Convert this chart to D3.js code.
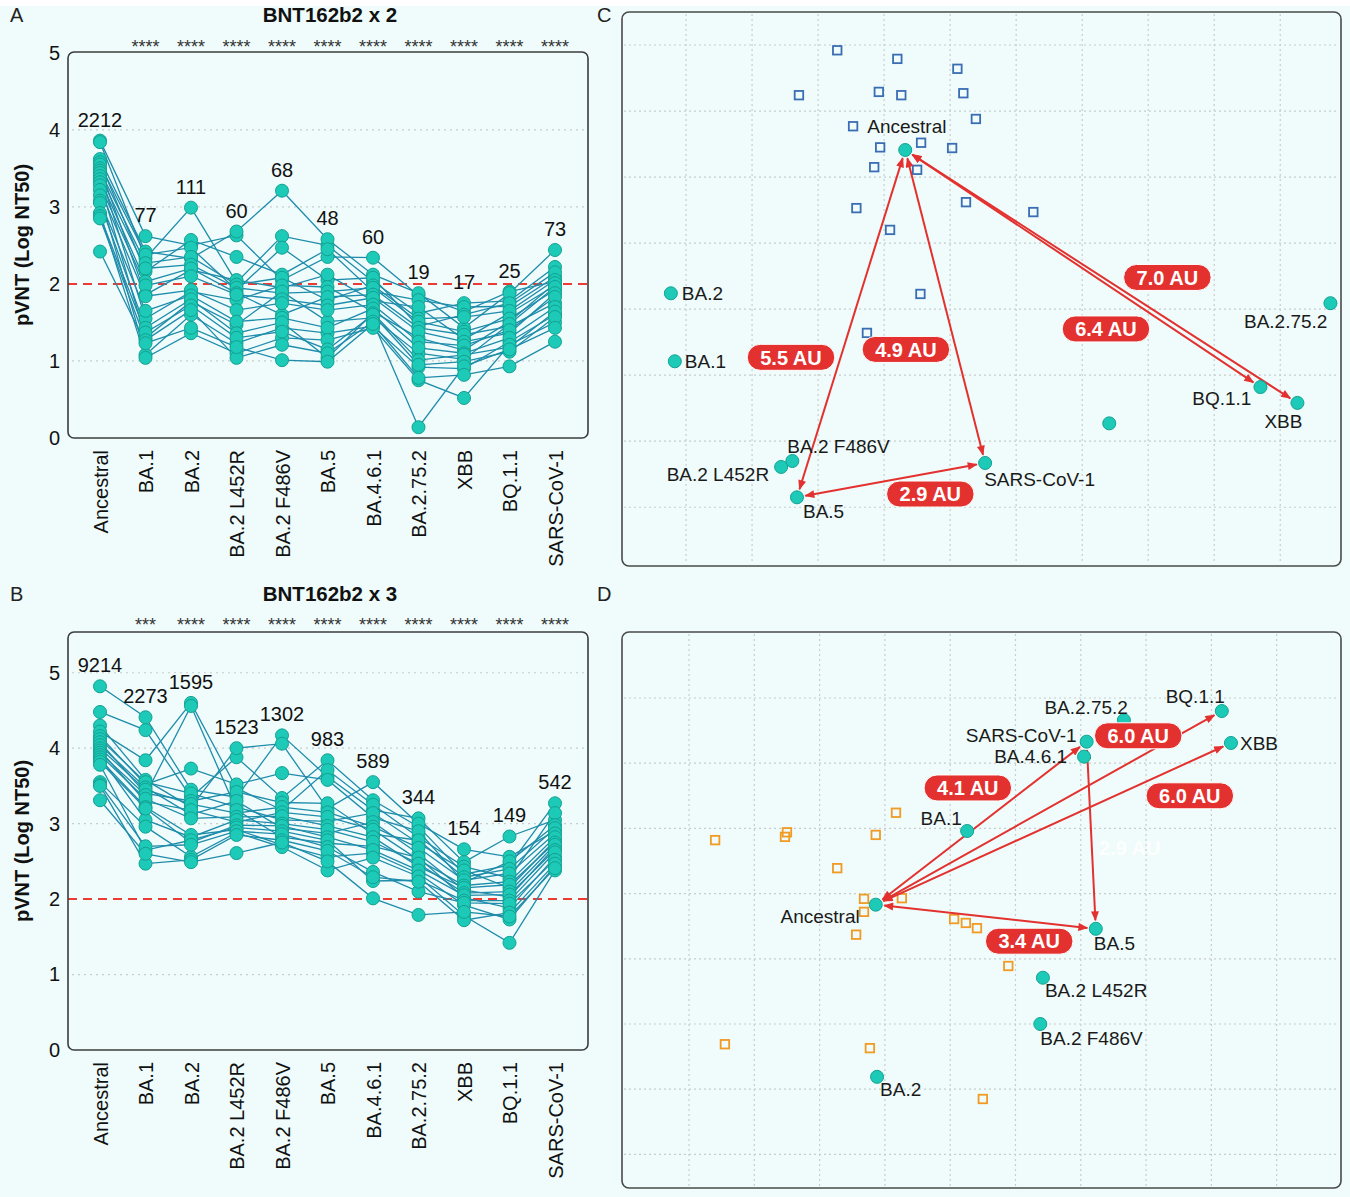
<!DOCTYPE html>
<html>
<head>
<meta charset="utf-8">
<script src="https://cdn.jsdelivr.net/npm/d3@7"></script>
<style>
  body { margin: 0; background: #ffffff; }
  svg { display: block; font-family: "Liberation Sans", Arial, Helvetica, sans-serif; }
</style>
</head>
<body>
<div id="chart"></div>
<script>
// ---------- data: neutralisation panels (A, B) ----------
const variants = ["Ancestral", "BA.1", "BA.2", "BA.2 L452R", "BA.2 F486V", "BA.5",
                  "BA.4.6.1", "BA.2.75.2", "XBB", "BQ.1.1", "SARS-CoV-1"];
const yTicks = [0, 1, 2, 3, 4, 5];
const cutoff = 2;

const gmtDose2 = [2212, 77, 111, 60, 68, 48, 60, 19, 17, 25, 73];
const starsDose2 = ["", "****", "****", "****", "****", "****", "****", "****", "****", "****", "****"];
// one list per variant, same subject order in every list (log10 NT50)
const titersDose2 = [
  [3.86,3.84,3.62,3.58,3.55,3.50,3.47,3.44,3.40,3.36,3.32,3.28,3.22,3.15,3.08,3.05,2.92,2.88,2.85,2.42],
  [2.62,2.33,2.42,2.16,2.38,1.86,2.27,1.55,2.20,2.03,1.30,1.98,1.84,1.08,1.65,1.43,1.04,1.37,1.27,1.23],
  [2.50,2.99,2.33,2.57,2.47,2.18,2.35,1.90,2.25,2.20,1.77,2.10,1.92,1.60,1.85,1.80,1.36,1.72,1.66,1.43],
  [2.63,2.02,2.68,2.35,1.92,2.05,1.99,1.79,1.95,1.88,1.47,1.86,1.66,1.23,1.51,1.36,1.10,1.30,1.04,1.18],
  [2.05,2.62,3.21,2.12,2.47,1.95,2.08,1.98,1.88,1.60,1.90,1.80,1.75,1.43,1.56,1.50,1.30,1.38,1.21,1.01],
  [2.35,2.50,2.58,2.45,2.05,2.12,1.79,1.96,1.90,1.83,1.51,1.72,1.66,1.36,1.43,1.04,1.27,1.15,1.10,0.99],
  [2.34,2.03,2.12,1.90,2.08,1.78,1.98,1.64,1.95,1.86,1.56,1.82,1.73,1.45,1.68,1.62,1.43,1.60,1.51,1.48],
  [1.85,1.62,1.88,1.79,1.45,1.70,1.55,1.30,1.51,1.43,1.10,1.38,1.25,0.92,1.17,1.01,0.75,0.95,0.14,0.78],
  [1.64,1.75,1.43,1.70,1.60,1.28,1.57,1.14,1.38,1.34,1.02,1.25,1.20,0.90,1.10,1.08,0.52,0.99,0.93,0.82],
  [1.90,1.78,1.88,1.71,1.75,1.62,1.65,1.51,1.55,1.45,1.48,1.36,1.40,1.25,1.30,1.18,1.21,1.12,1.15,0.93],
  [2.03,2.22,2.44,2.09,2.15,1.98,2.05,2.01,1.92,1.75,1.96,1.88,1.83,1.60,1.70,1.64,1.50,1.57,1.43,1.25]
];

const gmtDose3 = [9214, 2273, 1595, 1523, 1302, 983, 589, 344, 154, 149, 542];
const starsDose3 = ["", "***", "****", "****", "****", "****", "****", "****", "****", "****", "****"];
const titersDose3 = [
  [4.82,4.48,4.30,4.22,4.16,4.12,4.08,4.04,4.00,3.97,3.94,3.91,3.88,3.85,3.82,3.78,3.55,3.52,3.50,3.31],
  [4.41,4.24,3.58,3.84,3.52,3.55,3.40,3.48,3.45,3.29,3.38,3.33,3.05,3.22,3.20,2.65,2.96,2.70,2.47,2.60],
  [3.45,3.35,3.22,4.60,3.73,3.40,3.30,3.12,3.26,3.18,4.56,3.07,2.82,2.85,2.75,2.78,2.56,2.72,2.52,2.49],
  [3.35,3.88,4.00,3.47,3.52,3.22,3.42,3.30,3.14,3.02,3.18,3.09,3.05,2.92,2.98,2.95,2.88,2.90,2.85,2.61],
  [4.17,3.34,4.06,3.18,3.67,3.05,3.28,2.94,3.22,3.15,2.82,3.10,3.00,2.72,2.97,2.90,2.69,2.86,2.78,2.75],
  [3.62,3.84,3.20,3.71,3.58,3.03,3.27,2.87,3.15,3.09,2.74,2.97,2.92,2.56,2.82,2.78,2.38,2.69,2.64,2.50],
  [3.18,3.31,3.55,3.25,3.08,3.14,2.86,3.02,2.96,2.92,2.70,2.82,2.76,2.61,2.65,2.24,2.55,2.36,2.29,2.01],
  [3.07,2.96,3.00,2.82,2.90,2.74,2.78,2.60,2.68,2.52,2.55,2.43,2.47,2.34,2.38,2.25,2.30,2.10,2.23,1.79],
  [2.49,2.33,2.66,2.43,2.22,2.38,2.29,2.12,2.25,2.18,2.02,2.15,2.08,1.92,2.05,1.98,1.78,1.95,1.72,1.83],
  [2.83,2.45,2.56,2.28,2.50,2.15,2.40,2.03,2.34,2.23,1.88,2.19,2.10,1.73,2.06,1.98,1.42,1.94,1.82,1.77],
  [3.05,3.27,2.90,3.14,2.98,2.78,2.94,2.69,2.87,2.82,2.56,2.75,2.72,2.44,2.65,2.62,2.38,2.52,2.47,2.41]
];

// ---------- data: antigenic maps (C, D), coordinates in antigenic units ----------
const mapCVariants = ["Ancestral", "BA.2", "BA.1", "BA.2 F486V", "BA.2 L452R", "BA.5",
                      "SARS-CoV-1", "BA.2.75.2", "BQ.1.1", "XBB", "BA.4.6.1"];
const mapCX = [3.32, -0.23, -0.17, 1.61, 1.44, 1.68, 4.53, 9.76, 8.70, 9.26, 6.41];
const mapCY = [1.59, 3.76, 4.79, 6.30, 6.39, 6.85, 6.33, 3.91, 5.18, 5.42, 5.73];
const mapCShowLabel = [true, true, true, true, true, true, true, true, true, true, false];
const mapCSeraX = [2.29,3.20,4.11,1.71,2.92,3.26,4.20,4.39,2.53,2.94,3.56,4.03,2.85,3.50,2.58,4.24,3.09,5.26,3.55,2.74];
const mapCSeraY = [0.08,0.21,0.36,0.76,0.71,0.76,0.73,1.12,1.23,1.55,1.48,1.56,1.85,1.89,2.47,2.38,2.80,2.53,3.77,4.36];
const mapCArrows = [["Ancestral","XBB"], ["Ancestral","BQ.1.1"], ["Ancestral","BA.5"],
                    ["Ancestral","SARS-CoV-1"], ["BA.5","SARS-CoV-1"]];
const mapCDistances = ["7.0 AU", "6.4 AU", "5.5 AU", "4.9 AU", "2.9 AU"];
const mapCDistX = [7.29, 6.36, 1.59, 3.33, 3.70];
const mapCDistY = [3.52, 4.30, 4.73, 4.61, 6.80];

const mapDVariants = ["Ancestral", "BA.5", "BA.2 L452R", "BA.2 F486V", "BA.2", "BA.1",
                      "BA.4.6.1", "SARS-CoV-1", "BA.2.75.2", "BQ.1.1", "XBB"];
const mapDX = [2.86, 6.23, 5.42, 5.38, 2.88, 4.26, 6.05, 6.09, 6.66, 8.16, 8.30];
const mapDY = [3.17, 3.54, 4.29, 5.00, 5.81, 2.04, 0.90, 0.67, 0.34, 0.20, 0.69];
const mapDShowLabel = [true, true, true, true, true, true, true, true, true, true, true];
const mapDSeraX = [0.40,1.50,1.47,2.86,3.17,2.27,2.68,2.68,3.26,2.56,4.06,4.24,4.41,4.89,0.55,2.77,4.50];
const mapDSeraY = [2.18,2.06,2.13,2.10,1.76,2.61,3.08,3.28,3.07,3.63,3.39,3.45,3.53,4.11,5.31,5.37,6.15];
const mapDArrows = [["Ancestral","SARS-CoV-1"], ["Ancestral","BQ.1.1"], ["Ancestral","XBB"],
                    ["Ancestral","BA.5"], ["SARS-CoV-1","BA.5"]];
const mapDDistances = ["4.1 AU", "6.0 AU", "6.0 AU", "3.4 AU"];
const mapDDistX = [4.27, 6.88, 7.67, 5.21];
const mapDDistY = [1.38, 0.58, 1.50, 3.73];
const mapDFaintText = "2.9 AU";
const mapDFaintX = 6.75, mapDFaintY = 2.30;

// label placement for the maps: [anchor, dx, dy] in pixels
const labelPlaceC = {
  "Ancestral": ["start", -38, -24], "BA.2": ["start", 11, 0], "BA.1": ["start", 10, 0],
  "BA.2 F486V": ["start", -5, -15], "BA.2 L452R": ["end", -12, 7], "BA.5": ["start", 6, 14],
  "SARS-CoV-1": ["start", -1, 16], "BA.2.75.2": ["end", -3, 18], "BQ.1.1": ["end", -9, 11],
  "XBB": ["end", 5, 18], "BA.4.6.1": ["start", 10, 0]
};
const labelPlaceD = {
  "Ancestral": ["end", -16, 12], "BA.5": ["start", -2, 15], "BA.2 L452R": ["start", 2, 13],
  "BA.2 F486V": ["start", 0, 14], "BA.2": ["start", 3, 13], "BA.1": ["middle", -26, -13],
  "BA.4.6.1": ["end", -17, 0], "SARS-CoV-1": ["end", -10, -6], "BA.2.75.2": ["end", 4, -13],
  "BQ.1.1": ["end", 3, -15], "XBB": ["start", 9, 0]
};

// ---------- colours ----------
const TEAL = "#1dc9b7";
const TEAL_EDGE = "#12a293";
const LINE = "#1f8cab";
const RED = "#e3312f";
const GRID = "#c9cccc";
const BG = "#effcfb";

const W = 1350, H = 1197;
const svg = d3.select("#chart").append("svg").attr("width", W).attr("height", H);
svg.append("rect").attr("x", 0).attr("y", 6).attr("width", W).attr("height", H - 6).attr("fill", BG);

const defs = svg.append("defs");
defs.append("marker")
    .attr("id", "arrowhead")
    .attr("viewBox", "0 0 10 8")
    .attr("refX", 9).attr("refY", 4)
    .attr("markerWidth", 11).attr("markerHeight", 8)
    .attr("markerUnits", "userSpaceOnUse")
    .attr("orient", "auto-start-reverse")
  .append("path")
    .attr("d", "M0,0L10,4L0,8z")
    .attr("fill", RED);

// ---------- panels A and B ----------
function drawTiterPanel(cfg) {
    const g = svg.append("g");
    const left = 68, right = 588;

    const x = d3.scalePoint().domain(variants).range([left + 32, right - 33]);
    const y = d3.scaleLinear().domain([0, cfg.yMax]).range([cfg.bottom, cfg.top]);

    // panel letter and title
    g.append("text").attr("x", 10).attr("y", cfg.titleY)
        .style("font-size", "20px").attr("fill", "#222").text(cfg.letter);
    g.append("text").attr("x", 330).attr("y", cfg.titleY).attr("text-anchor", "middle")
        .style("font-size", "20.5px").style("font-weight", "bold").attr("fill", "#111")
        .text(cfg.title);

    // dotted gridlines
    g.selectAll(".grid")
        .data(yTicks.filter(t => t > 0 && t !== cutoff && t < cfg.yMax - 0.1))
        .enter().append("line")
        .attr("x1", left + 4).attr("x2", right - 2)
        .attr("y1", d => y(d)).attr("y2", d => y(d))
        .attr("stroke", GRID).attr("stroke-width", 1.2).attr("stroke-dasharray", "2,4");

    // y axis
    const yAxis = g.append("g")
        .attr("transform", `translate(${left},0)`)
        .call(d3.axisLeft(y).tickValues(yTicks).tickSize(0).tickPadding(8).tickFormat(d3.format("d")));
    yAxis.select(".domain").remove();
    yAxis.selectAll("text").style("font-size", "20px").attr("fill", "#111")
        .style("font-family", "'Liberation Sans', Arial, sans-serif");

    // x axis, rotated labels
    const xAxis = g.append("g")
        .attr("transform", `translate(0,${cfg.bottom})`)
        .call(d3.axisBottom(x).tickSize(0));
    xAxis.select(".domain").remove();
    xAxis.selectAll("text")
        .attr("transform", "rotate(-90)")
        .attr("text-anchor", "end")
        .attr("x", -12).attr("y", 0).attr("dy", "0.36em")
        .style("font-size", "20px").attr("fill", "#111")
        .style("font-family", "'Liberation Sans', Arial, sans-serif");

    // y axis title
    g.append("text")
        .attr("transform", `translate(29,${(cfg.top + cfg.bottom) / 2}) rotate(-90)`)
        .attr("text-anchor", "middle")
        .style("font-size", "20px").style("font-weight", "bold").attr("fill", "#111")
        .text("pVNT (Log NT50)");

    // significance stars
    g.selectAll(".star")
        .data(cfg.stars)
        .enter().append("text")
        .attr("x", (d, i) => x(variants[i]))
        .attr("y", cfg.starY)
        .attr("text-anchor", "middle")
        .style("font-size", "18px").attr("fill", "#333")
        .text(d => d);

    // threshold line
    g.append("line")
        .attr("x1", left).attr("x2", right)
        .attr("y1", y(cutoff)).attr("y2", y(cutoff))
        .attr("stroke", "#ec3b34").attr("stroke-width", 2).attr("stroke-dasharray", "9,6");

    // subject lines
    const nSubjects = cfg.titers[0].length;
    const subjects = d3.range(nSubjects).map(i => cfg.titers.map(col => col[i]));
    const line = d3.line().x((d, j) => x(variants[j])).y(d => y(d));
    g.selectAll(".subject")
        .data(subjects)
        .enter().append("path")
        .attr("d", line)
        .attr("fill", "none").attr("stroke", LINE).attr("stroke-width", 1.3);

    // points
    cfg.titers.forEach((col, j) => {
        g.selectAll(null)
            .data(col)
            .enter().append("circle")
            .attr("cx", x(variants[j]))
            .attr("cy", d => y(d))
            .attr("r", 6.5)
            .attr("fill", TEAL).attr("stroke", TEAL_EDGE).attr("stroke-width", 1);
    });

    // geometric mean titres above each column
    g.selectAll(".gmt")
        .data(cfg.gmt)
        .enter().append("text")
        .attr("x", (d, i) => x(variants[i]))
        .attr("y", (d, i) => y(d3.max(cfg.titers[i])) - 14)
        .attr("text-anchor", "middle")
        .style("font-size", "20px").attr("fill", "#111")
        .text(d => d);

    // frame
    g.append("rect")
        .attr("x", left).attr("y", cfg.top)
        .attr("width", right - left).attr("height", cfg.bottom - cfg.top)
        .attr("rx", 6).attr("fill", "none").attr("stroke", "#3c3c3c").attr("stroke-width", 1.6);
}

drawTiterPanel({ letter: "A", title: "BNT162b2 x 2", titleY: 22, starY: 53,
                 top: 52, bottom: 438, yMax: 5.01,
                 titers: titersDose2, gmt: gmtDose2, stars: starsDose2 });
drawTiterPanel({ letter: "B", title: "BNT162b2 x 3", titleY: 601, starY: 631,
                 top: 632, bottom: 1050, yMax: 5.54,
                 titers: titersDose3, gmt: gmtDose3, stars: starsDose3 });

// ---------- panels C and D ----------
function drawMap(cfg) {
    const g = svg.append("g");
    const left = 622, right = 1341;
    const x = d3.scaleLinear().domain(cfg.xDomain).range([left, right]);
    const y = d3.scaleLinear().domain(cfg.yDomain).range([cfg.top, cfg.bottom]);

    g.append("text").attr("x", 597).attr("y", cfg.letterY)
        .style("font-size", "20px").attr("fill", "#222").text(cfg.letter);

    // grid
    g.selectAll(".gx")
        .data(x.ticks(10).filter(t => x(t) > left + 5 && x(t) < right - 5))
        .enter().append("line")
        .attr("x1", d => x(d)).attr("x2", d => x(d))
        .attr("y1", cfg.top + 2).attr("y2", cfg.bottom - 2)
        .attr("stroke", GRID).attr("stroke-width", 1.2).attr("stroke-dasharray", "2,3");
    g.selectAll(".gy")
        .data(y.ticks(8).filter(t => y(t) > cfg.top + 5 && y(t) < cfg.bottom - 5))
        .enter().append("line")
        .attr("x1", left + 2).attr("x2", right - 2)
        .attr("y1", d => y(d)).attr("y2", d => y(d))
        .attr("stroke", GRID).attr("stroke-width", 1.2).attr("stroke-dasharray", "2,3");

    // sera
    const s = 8.5;
    g.selectAll(".serum")
        .data(cfg.seraX)
        .enter().append("rect")
        .attr("x", d => x(d) - s / 2)
        .attr("y", (d, i) => y(cfg.seraY[i]) - s / 2)
        .attr("width", s).attr("height", s)
        .attr("fill", "none").attr("stroke", cfg.seraColor).attr("stroke-width", 1.8);

    const pos = {};
    cfg.names.forEach((n, i) => { pos[n] = [x(cfg.px[i]), y(cfg.py[i])]; });

    // arrows
    const gap = 8.5;
    g.selectAll(".arrow")
        .data(cfg.arrows)
        .enter().append("line")
        .each(function (d) {
            const [x1, y1] = pos[d[0]], [x2, y2] = pos[d[1]];
            const len = Math.hypot(x2 - x1, y2 - y1);
            const ux = (x2 - x1) / len, uy = (y2 - y1) / len;
            d3.select(this)
                .attr("x1", x1 + ux * gap).attr("y1", y1 + uy * gap)
                .attr("x2", x2 - ux * gap).attr("y2", y2 - uy * gap);
        })
        .attr("stroke", RED).attr("stroke-width", 2)
        .attr("marker-start", "url(#arrowhead)").attr("marker-end", "url(#arrowhead)");

    // antigens
    g.selectAll(".antigen")
        .data(cfg.names)
        .enter().append("circle")
        .attr("cx", d => pos[d][0]).attr("cy", d => pos[d][1])
        .attr("r", 6.5)
        .attr("fill", TEAL).attr("stroke", TEAL_EDGE).attr("stroke-width", 1);

    // antigen labels
    g.selectAll(".alabel")
        .data(cfg.names.filter((n, i) => cfg.show[i]))
        .enter().append("text")
        .attr("x", d => pos[d][0] + cfg.place[d][1])
        .attr("y", d => pos[d][1] + cfg.place[d][2])
        .attr("dy", "0.35em")
        .attr("text-anchor", d => cfg.place[d][0])
        .style("font-size", "19px").attr("fill", "#1a1a1a")
        .text(d => d);

    // distance pills
    cfg.dist.forEach((t, i) => {
        const cx = x(cfg.distX[i]), cy = y(cfg.distY[i]);
        const pg = g.append("g");
        const txt = pg.append("text")
            .attr("x", cx).attr("y", cy).attr("dy", "0.36em")
            .attr("text-anchor", "middle")
            .style("font-size", "20px").style("font-weight", "bold")
            .attr("fill", "#ffffff").text(t);
        const w = txt.node().getComputedTextLength() + 26;
        pg.insert("rect", "text")
            .attr("x", cx - w / 2).attr("y", cy - 13)
            .attr("width", w).attr("height", 26).attr("rx", 13)
            .attr("fill", RED).attr("stroke", "#ffffff").attr("stroke-width", 1);
    });

    if (cfg.faint) {
        g.append("text")
            .attr("x", x(cfg.faint[1])).attr("y", y(cfg.faint[2])).attr("dy", "0.36em")
            .attr("text-anchor", "middle")
            .style("font-size", "20px").style("font-weight", "bold")
            .attr("fill", "#ffffff").attr("opacity", 0.9)
            .text(cfg.faint[0]);
    }

    // frame
    g.append("rect")
        .attr("x", left).attr("y", cfg.top)
        .attr("width", right - left).attr("height", cfg.bottom - cfg.top)
        .attr("rx", 7).attr("fill", "none").attr("stroke", "#4a4a4a").attr("stroke-width", 1.6);
}

drawMap({ letter: "C", letterY: 22, top: 12, bottom: 566,
          xDomain: [-0.97, 9.92], yDomain: [-0.5, 7.89],
          names: mapCVariants, px: mapCX, py: mapCY, show: mapCShowLabel, place: labelPlaceC,
          seraX: mapCSeraX, seraY: mapCSeraY, seraColor: "#3a6db3",
          arrows: mapCArrows, dist: mapCDistances, distX: mapCDistX, distY: mapCDistY });
drawMap({ letter: "D", letterY: 601, top: 632, bottom: 1188,
          xDomain: [-1.026, 9.985], yDomain: [-1.012, 7.515],
          names: mapDVariants, px: mapDX, py: mapDY, show: mapDShowLabel, place: labelPlaceD,
          seraX: mapDSeraX, seraY: mapDSeraY, seraColor: "#f19a24",
          arrows: mapDArrows, dist: mapDDistances, distX: mapDDistX, distY: mapDDistY,
          faint: [mapDFaintText, mapDFaintX, mapDFaintY] });
</script>
</body>
</html>
